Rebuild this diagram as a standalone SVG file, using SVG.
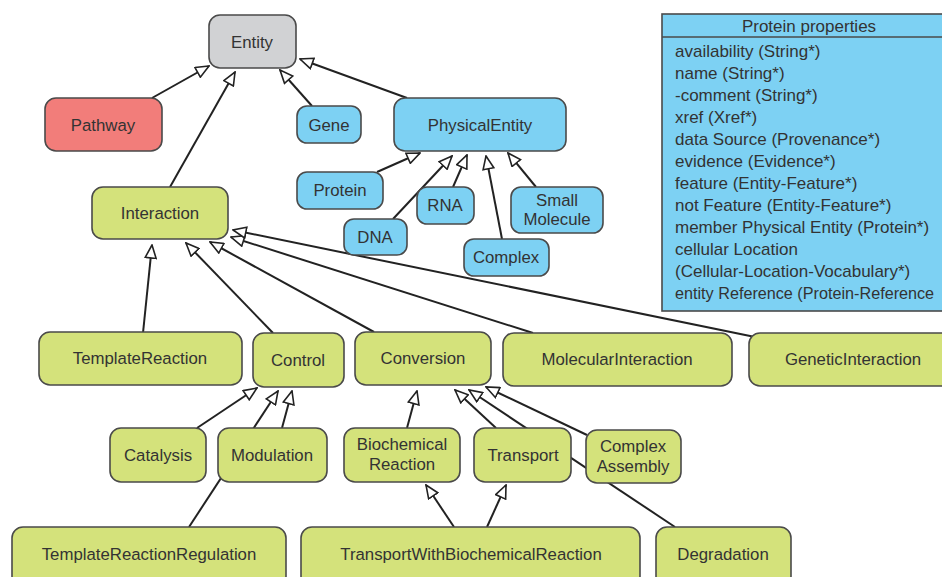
<svg xmlns="http://www.w3.org/2000/svg" width="942" height="577" viewBox="0 0 942 577">
<defs>
<marker id="tri" markerUnits="userSpaceOnUse" markerWidth="15" markerHeight="13" refX="14" refY="6.5" orient="auto">
<path d="M1,1 L14,6.5 L1,12 Z" fill="#fff" stroke="#222" stroke-width="1.6" stroke-linejoin="miter"/>
</marker>
<style>
.n rect{stroke:#4a4a4a;stroke-width:1.6}
.gray rect{fill:#d1d2d4}
.red rect{fill:#f27d7a}
.blue rect{fill:#7dd1f3}
.green rect{fill:#d4e27b}
text{font-family:"Liberation Sans",Arial,sans-serif;font-size:16.8px;fill:#333;text-anchor:middle;dominant-baseline:central}
.c line{stroke:#222;stroke-width:2;marker-end:url(#tri)}
.props text{text-anchor:start;font-size:17px}
.props .h{text-anchor:middle}
.props .last{font-size:16.2px}
</style>
</defs>
<rect width="942" height="577" fill="#fff"/>

<g class="c" id="connectors">
<line x1="152" y1="98" x2="209" y2="66"/>
<line x1="170" y1="187" x2="235" y2="72"/>
<line x1="312" y1="106" x2="280" y2="70"/>
<line x1="407" y1="98" x2="300" y2="59"/>
<line x1="377" y1="172" x2="420" y2="153"/>
<line x1="393" y1="219" x2="452" y2="156"/>
<line x1="453" y1="187" x2="467" y2="155"/>
<line x1="502" y1="239" x2="486" y2="156"/>
<line x1="536" y1="187" x2="508" y2="153"/>
<line x1="143" y1="333" x2="152" y2="245"/>
<line x1="273" y1="333" x2="186" y2="243"/>
<line x1="374" y1="332" x2="210" y2="242"/>
<line x1="533" y1="333" x2="231" y2="237"/>
<line x1="755" y1="337" x2="233" y2="230"/>
<line x1="197" y1="428" x2="257" y2="388"/>
<line x1="189" y1="527" x2="278" y2="391"/>
<line x1="282" y1="428" x2="292" y2="391"/>
<line x1="407" y1="428" x2="417" y2="391"/>
<line x1="496" y1="428" x2="455" y2="390"/>
<line x1="675" y1="527" x2="469" y2="390"/>
<line x1="587" y1="435" x2="486" y2="387"/>
<line x1="454" y1="527" x2="426" y2="485"/>
<line x1="487" y1="527" x2="506" y2="485"/>
</g>

<g id="entity" class="n gray"><rect x="209" y="15" width="87" height="53" rx="11"/><text x="252" y="42">Entity</text></g>
<g id="pathway" class="n red"><rect x="45" y="98" width="117" height="53" rx="11"/><text x="103" y="125">Pathway</text></g>
<g id="interaction" class="n green"><rect x="92" y="187" width="136" height="52" rx="11"/><text x="160" y="213">Interaction</text></g>
<g id="gene" class="n blue"><rect x="297" y="106" width="64" height="37" rx="10"/><text x="329" y="125">Gene</text></g>
<g id="physicalentity" class="n blue"><rect x="394" y="98" width="172" height="53" rx="11"/><text x="480" y="125">PhysicalEntity</text></g>
<g id="protein" class="n blue"><rect x="297" y="172" width="86" height="37" rx="10"/><text x="340" y="190">Protein</text></g>
<g id="dna" class="n blue"><rect x="344" y="219" width="63" height="36" rx="10"/><text x="375" y="237">DNA</text></g>
<g id="rna" class="n blue"><rect x="417" y="187" width="57" height="37" rx="10"/><text x="445" y="205">RNA</text></g>
<g id="complex" class="n blue"><rect x="464" y="239" width="85" height="37" rx="10"/><text x="506" y="257">Complex</text></g>
<g id="smallmolecule" class="n blue"><rect x="511" y="187" width="92" height="46" rx="10"/><text x="557" y="200">Small</text><text x="557" y="219">Molecule</text></g>

<g id="templatereaction" class="n green"><rect x="39" y="332" width="203" height="53" rx="11"/><text x="140" y="358">TemplateReaction</text></g>
<g id="control" class="n green"><rect x="253" y="333" width="91" height="54" rx="11"/><text x="298" y="360">Control</text></g>
<g id="conversion" class="n green"><rect x="355" y="332" width="136" height="53" rx="11"/><text x="423" y="358">Conversion</text></g>
<g id="molecularinteraction" class="n green"><rect x="503" y="333" width="229" height="53" rx="11"/><text x="617" y="359">MolecularInteraction</text></g>
<g id="geneticinteraction" class="n green"><rect x="749" y="333" width="210" height="53" rx="11"/><text x="853" y="359">GeneticInteraction</text></g>

<g id="catalysis" class="n green"><rect x="110" y="428" width="96" height="54" rx="11"/><text x="158" y="455">Catalysis</text></g>
<g id="modulation" class="n green"><rect x="218" y="428" width="109" height="54" rx="11"/><text x="272" y="455">Modulation</text></g>
<g id="biochemicalreaction" class="n green"><rect x="344" y="428" width="116" height="54" rx="11"/><text x="402" y="444">Biochemical</text><text x="402" y="464">Reaction</text></g>
<g id="transport" class="n green"><rect x="474" y="428" width="97" height="54" rx="11"/><text x="523" y="455">Transport</text></g>
<g id="complexassembly" class="n green"><rect x="586" y="430" width="95" height="53" rx="11"/><text x="633" y="446">Complex</text><text x="633" y="466">Assembly</text></g>

<g id="templatereactionregulation" class="n green"><rect x="12" y="527" width="274" height="60" rx="11"/><text x="149" y="554">TemplateReactionRegulation</text></g>
<g id="transportwithbiochemicalreaction" class="n green"><rect x="301" y="527" width="339" height="60" rx="11"/><text x="471" y="554">TransportWithBiochemicalReaction</text></g>
<g id="degradation" class="n green"><rect x="656" y="527" width="135" height="60" rx="11"/><text x="723" y="554">Degradation</text></g>

<g id="proteinproperties" class="props">
<rect x="662" y="14" width="290" height="297" fill="#7dd1f3" stroke="#4a4a4a" stroke-width="1.6"/>
<line x1="662" y1="37" x2="942" y2="37" stroke="#4a4a4a" stroke-width="1.6"/>
<text class="h" x="809" y="26">Protein properties</text>
<text x="675" y="51">availability (String*)</text>
<text x="675" y="73">name (String*)</text>
<text x="675" y="95">-comment (String*)</text>
<text x="675" y="117">xref (Xref*)</text>
<text x="675" y="139">data Source (Provenance*)</text>
<text x="675" y="161">evidence (Evidence*)</text>
<text x="675" y="183">feature (Entity-Feature*)</text>
<text x="675" y="205">not Feature (Entity-Feature*)</text>
<text x="675" y="227">member Physical Entity (Protein*)</text>
<text x="675" y="249">cellular Location</text>
<text x="675" y="271">(Cellular-Location-Vocabulary*)</text>
<text class="last" x="675" y="293">entity Reference (Protein-Reference</text>
</g>
</svg>
